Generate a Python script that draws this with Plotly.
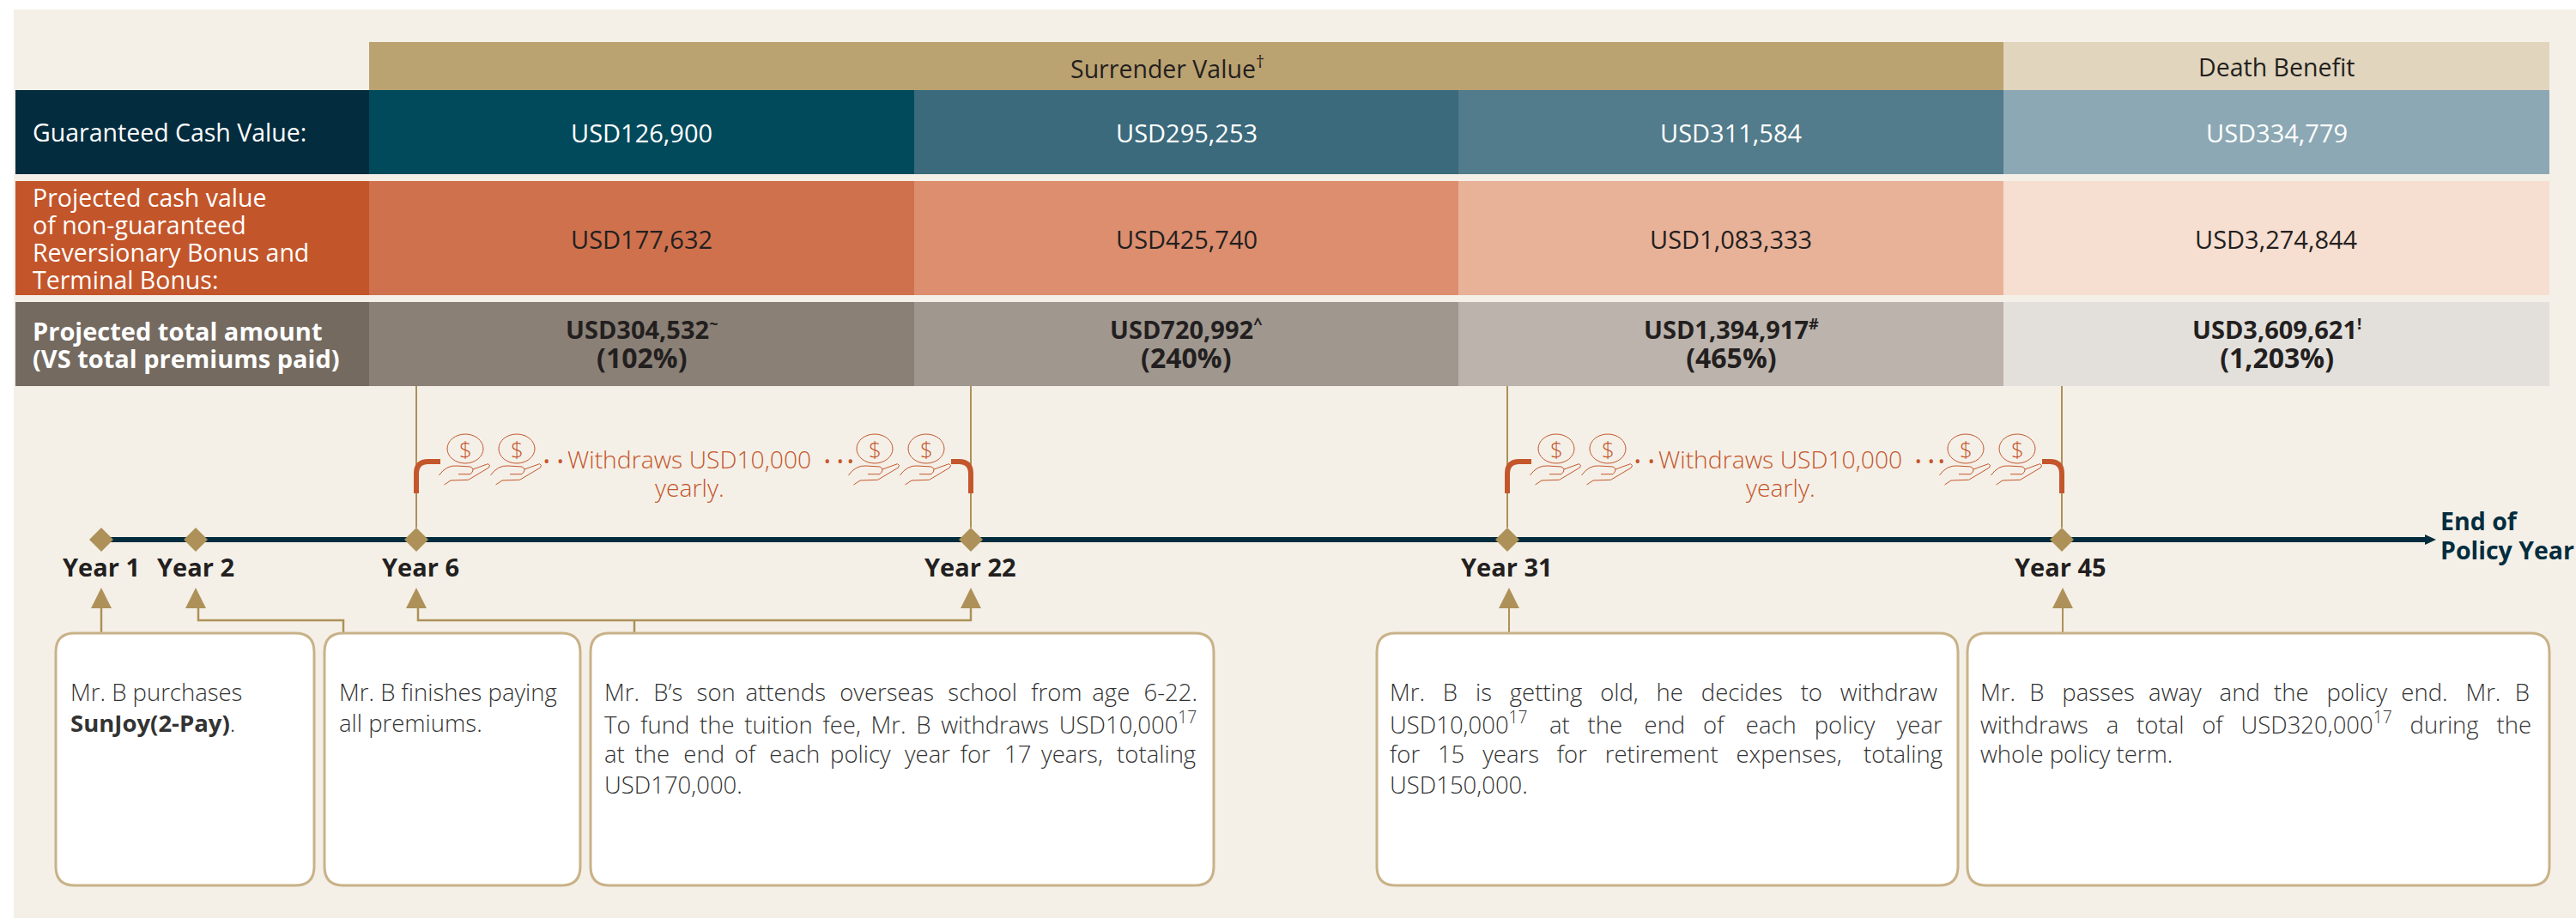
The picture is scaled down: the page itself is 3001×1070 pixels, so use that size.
import plotly.graph_objects as go

# ---------- data ----------
year_labels = ["Year 1", "Year 2", "Year 6", "Year 22", "Year 31", "Year 45"]
header_labels = ["Surrender Value<sup>†</sup>", "Death Benefit"]
row_labels_guaranteed = ["Guaranteed Cash Value:"]
row_labels_projected = ["Projected cash value", "of non-guaranteed", "Reversionary Bonus and", "Terminal Bonus:"]
row_labels_total = ["Projected total amount", "(VS total premiums paid)"]
guaranteed_values = ["USD126,900", "USD295,253", "USD311,584", "USD334,779"]
projected_values = ["USD177,632", "USD425,740", "USD1,083,333", "USD3,274,844"]
total_values = ["USD304,532", "USD720,992", "USD1,394,917", "USD3,609,621"]
total_marks = ["~", "^", "#", "!"]
total_percents = ["(102%)", "(240%)", "(465%)", "(1,203%)"]
withdraw_lines = ["Withdraws USD10,000", "yearly."]
axis_end_lines = ["End of", "Policy Year"]
box_texts = [
    ["Mr. B purchases", "<b>SunJoy(2-Pay)</b>."],
    ["Mr. B finishes paying", "all premiums."],
    ["Mr. B’s son attends overseas school from age 6-22.",
     "To fund the tuition fee, Mr. B withdraws USD10,000<sup>17</sup>",
     "at the end of each policy year for 17 years, totaling",
     "USD170,000."],
    ["Mr. B is getting old, he decides to withdraw",
     "USD10,000<sup>17</sup> at the end of each policy year",
     "for 15 years for retirement expenses, totaling",
     "USD150,000."],
    ["Mr. B passes away and the policy end. Mr. B",
     "withdraws a total of USD320,000<sup>17</sup> during the",
     "whole policy term."],
]
# extra width (px) spread over each line's word gaps, to mimic justified text
box_extra = [
    [0, 0], [0, 0],
    [78, 45, 82, 0],
    [133, 136, 102, 0],
    [122, 101, 0],
]

# ---------- layout constants ----------
W, H = 3001, 1070
BG, WHITE = "#f4f0e8", "#ffffff"
GOLD, BORDER = "#ae9158", "#c9b288"
NAVY, ORANGE, DARK = "#032d3e", "#c4562b", "#231f20"
FONT = "Open Sans"
col_x = [430, 1065, 1699, 2334, 2970]
label_x0 = 18
rows = [(105, 203), (211, 344), (352, 450)]
row_fills = [
    ["#032c3e", "#014a5c", "#3b6a7c", "#527b8b", "#8ca8b4"],
    ["#c3552a", "#cf714d", "#dc8e6e", "#e8b299", "#f6ded0"],
    ["#746a60", "#8a8076", "#a0978f", "#bbb3ac", "#e3e0dc"],
]
year_x = [118, 228, 485, 1131, 1756, 2402]
year_label_x = [118, 228, 490, 1130, 1755, 2400]
AXIS_Y = 629
boxes = [(65, 366), (378, 676), (688, 1414), (1604, 2281), (2292, 2970)]
BOX_Y0, BOX_Y1 = 738, 1032
text_x = [80, 393, 702, 1617, 2305]
THIN = "\u2009"
THIN_PX = 5.5

shapes, ann = [], []


def rect(x0, y0, x1, y1, fill):
    shapes.append(dict(type="rect", x0=x0, x1=x1, y0=y0, y1=y1, fillcolor=fill, line_width=0, layer="below"))


def path(d, color, width=2, fill=None):
    s = dict(type="path", path=d, line=dict(color=color, width=width), layer="below")
    if fill:
        s["fillcolor"] = fill
    shapes.append(s)


def text(x, y, s, size, color=DARK, anchor="center", weight=None):
    f = dict(family=FONT, size=size, color=color)
    if weight:
        f["weight"] = weight
    ann.append(dict(x=x, y=y, text=s, showarrow=False, xanchor=anchor, yanchor="middle",
                    align=anchor, font=f, xref="x", yref="y"))


def sized(s, px):
    return f"<span style=\"font-size:{px}px\">{s}</span>"


def spread(s, extra):
    """Widen the word gaps of one line by about `extra` pixels using thin spaces."""
    words = s.split(" ")
    gaps = len(words) - 1
    if not extra or gaps < 1:
        return s
    out, done = words[0], 0
    for i, w in enumerate(words[1:], 1):
        n = round(extra * i / gaps / THIN_PX) - done
        done += n
        out += " " + THIN * n + w
    return out


rect(16, 11, W, H, BG)

# header band
rect(430, 49, 2334, 105, "#bba271")
rect(2334, 49, 2970, 105, "#e1d5bd")
text(1360, 78, header_labels[0], 28.5)
text(2652, 78, header_labels[1], 28.5)

# table cells
for (y0, y1), fills in zip(rows, row_fills):
    rect(label_x0, y0, col_x[0], y1, fills[0])
    for i in range(4):
        rect(col_x[i], y0, col_x[i + 1], y1, fills[i + 1])

text(36, 154, row_labels_guaranteed[0], 28.5, WHITE, "left")
for y, s in zip([230, 262, 294, 326], row_labels_projected):
    text(36, y, s, 28.5, WHITE, "left")
text(36, 401, f"<b>{sized(row_labels_total[0], 29)}<br>{sized(row_labels_total[1], 29)}</b>", 24.6, WHITE, "left")

for i in range(4):
    cx = (col_x[i] + col_x[i + 1]) / 2
    text(cx, 154, guaranteed_values[i], 29, WHITE)
    text(cx, 278, projected_values[i], 29)
    text(cx, 401, f"<b>{sized(total_values[i], 29)}<sup>{total_marks[i]}</sup><br>"
                  f"{sized(total_percents[i], 32)}</b>", 26)

# drop lines from the table to the timeline
for x in year_x[2:]:
    path(f"M{x},450 L{x},615", GOLD, 2)

# timeline
path(f"M{year_x[0]},{AXIS_Y} L2828,{AXIS_Y}", NAVY, 6)
path(f"M2825,623 L2838,{AXIS_Y} L2825,635 Z", NAVY, 0, NAVY)
for x, s in zip(year_label_x, year_labels):
    text(x, 660, f"<b>{s}</b>", 29)
text(2841, 607, f"<b>{axis_end_lines[0]}</b>", 28.5, NAVY, "left")
text(2841, 641, f"<b>{axis_end_lines[1]}</b>", 28.5, NAVY, "left")


# withdrawal brackets, coins and hands
def coin(cx):
    cy = 523
    shapes.append(dict(type="circle", x0=cx - 21, x1=cx + 21, y0=cy - 17, y1=cy + 17,
                       line=dict(color=ORANGE, width=1), layer="below"))
    text(cx, cy, "$", 26, ORANGE, weight=300)
    path(f"M{cx-30.6},{cy+31} Q{cx-22},{cy+19} {cx-10},{cy+20} L{cx+6},{cy+21} Q{cx+12},{cy+24} {cx+6},{cy+29.7} L{cx-8},{cy+29.7}", ORANGE, 1)
    path(f"M{cx+9},{cy+24} L{cx+26.5},{cy+17.7} Q{cx+30},{cy+19} {cx+27.5},{cy+22} L{cx+3.6},{cy+36.3} L{cx-17},{cy+37} L{cx-24.5},{cy+42}", ORANGE, 1)


for off in (0, 1271):
    xl, xr = 485 + off, 1131 + off
    path(f"M{xl},575 L{xl},552 Q{xl},538 {xl+14},538 L{xl+28},538", ORANGE, 6)
    path(f"M{xr},575 L{xr},552 Q{xr},538 {xr-14},538 L{xr-23},538", ORANGE, 6)
    for cx in (542, 602, 1019, 1079):
        coin(cx + off)
    for dx in (637, 653, 964, 979, 991):
        text(dx + off, 537, "•", 20, ORANGE)
    text(803 + off, 535, withdraw_lines[0], 28.3, ORANGE, weight=300)
    text(803 + off, 568, withdraw_lines[1], 28.3, ORANGE, weight=300)

# arrows above the note boxes
arrow_x = [118, 228, 485, 1131, 1758, 2403]
for x in arrow_x:
    path(f"M{x-12},709 L{x},685 L{x+12},709 Z", GOLD, 0, GOLD)
path("M118,709 L118,738", GOLD, 2.5)
path("M231,709 L231,723 L400,723 L400,738", GOLD, 2.5)
path("M487,709 L487,723 L1131,723 L1131,709", GOLD, 2.5)
path("M739,723 L739,738", GOLD, 2.5)
path("M1758,709 L1758,738", GOLD, 2)
path("M2403,709 L2403,738", GOLD, 2)

# note boxes
r = 22
for (x0, x1), tx, lines, extras in zip(boxes, text_x, box_texts, box_extra):
    path(f"M{x0+r},{BOX_Y0} L{x1-r},{BOX_Y0} Q{x1},{BOX_Y0} {x1},{BOX_Y0+r} L{x1},{BOX_Y1-r} "
         f"Q{x1},{BOX_Y1} {x1-r},{BOX_Y1} L{x0+r},{BOX_Y1} Q{x0},{BOX_Y1} {x0},{BOX_Y1-r} "
         f"L{x0},{BOX_Y0+r} Q{x0},{BOX_Y0} {x0+r},{BOX_Y0} Z", BORDER, 3, WHITE)
    for j, (s, e) in enumerate(zip(lines, extras)):
        text(tx, 806 + 36 * j, spread(s, e), 27.5, "#333333", "left", weight=300)

# year markers, drawn through the axes
fig = go.Figure(go.Scatter(
    x=year_x, y=[AXIS_Y] * len(year_x), mode="markers", hoverinfo="skip",
    marker=dict(symbol="diamond", size=21.5, color=GOLD, line_width=0),
))
fig.update_layout(
    width=W, height=H, margin=dict(l=0, r=0, t=0, b=0), autosize=False,
    paper_bgcolor=WHITE, plot_bgcolor=WHITE, showlegend=False,
    xaxis=dict(range=[0, W], visible=False, fixedrange=True),
    yaxis=dict(range=[H, 0], visible=False, fixedrange=True),
    shapes=shapes, annotations=ann,
)
fig.write_html("out.html", config=dict(displayModeBar=False),
               post_script="document.body.style.margin='0';document.body.style.overflow='hidden';")
